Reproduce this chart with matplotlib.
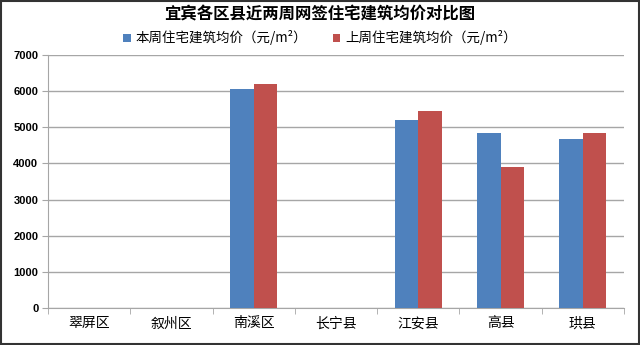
import numpy as np
import matplotlib
matplotlib.use('Agg')
import matplotlib.pyplot as plt
from matplotlib.patches import Rectangle

plt.rcParams['font.family'] = ['Noto Sans CJK SC', 'DejaVu Sans']

# 数据
districts = ['翠屏区', '叙州区', '南溪区', '长宁县', '江安县', '高县', '珙县']
this_week = [0, 0, 6060, 0, 5200, 4830, 4680]
last_week = [0, 0, 6190, 0, 5440, 3900, 4840]
label_this = '本周住宅建筑均价（元/m²）'
label_last = '上周住宅建筑均价（元/m²）'
title = '宜宾各区县近两周网签住宅建筑均价对比图'

blue = '#4F81BD'
red = '#C0504D'
grid_c = '#A6A6A6'

fig = plt.figure(figsize=(6.4, 3.45), dpi=100)
ax = fig.add_axes([0.075, 0.107, 0.900, 0.734])

x = np.arange(len(districts))
w = 0.286
ax.bar(x - w / 2, this_week, w, color=blue, label=label_this, zorder=3)
ax.bar(x + w / 2, last_week, w, color=red, label=label_last, zorder=3)

ax.set_xlim(-0.5, len(districts) - 0.5)
ax.set_ylim(0, 7000)
ax.set_yticks(range(0, 7001, 1000))
ax.yaxis.grid(True, color=grid_c, linewidth=1.0, zorder=0)
ax.set_axisbelow(True)

# x 轴：类别间刻度
ax.set_xticks(x)
ax.set_xticklabels(districts, fontsize=10)
ax.set_xticks(np.arange(-0.5, len(districts)), minor=True)
ax.tick_params(axis='x', which='major', length=0, pad=6)
ax.tick_params(axis='x', which='minor', length=4, color=grid_c, direction='out')
ax.tick_params(axis='y', length=4, color=grid_c, direction='out', pad=3)
for lab in ax.get_yticklabels():
    lab.set_family('Liberation Sans')
    lab.set_fontweight('bold')
    lab.set_fontsize(8)

for s in ['top', 'right']:
    ax.spines[s].set_visible(False)
for s in ['left', 'bottom']:
    ax.spines[s].set_color(grid_c)

fig.text(0.5, 0.958, title, ha='center', va='center', fontsize=11.8, fontweight='bold')
fig.legend(loc='center', bbox_to_anchor=(0.5, 0.89), ncol=2, frameon=False,
           fontsize=9.7, handlelength=0.55, handleheight=0.55, handletextpad=0.35,
           columnspacing=1.9)

# 外框
fig.patches.append(Rectangle((0.002, 0.003), 0.996, 0.994, transform=fig.transFigure,
                             fill=False, edgecolor='#333333', linewidth=1.5))

fig.savefig('out.png', dpi=100)
